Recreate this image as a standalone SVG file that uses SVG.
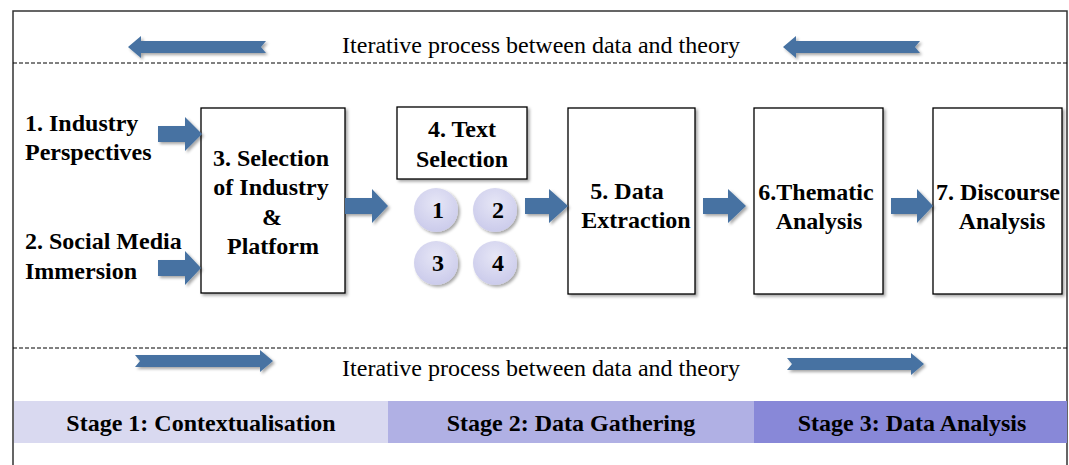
<svg xmlns="http://www.w3.org/2000/svg" width="1069" height="465" viewBox="0 0 1069 465" font-family="'Liberation Serif', 'Times New Roman', 'DejaVu Serif', serif">
<defs>
<filter id="sh" x="-10%" y="-10%" width="130%" height="130%">
<feDropShadow dx="2" dy="2" stdDeviation="1.8" flood-color="#000" flood-opacity="0.35"/>
</filter>
<radialGradient id="cg" cx="50%" cy="35%" r="65%">
<stop offset="0" stop-color="#e6e6f6"/>
<stop offset="1" stop-color="#cbcbeb"/>
</radialGradient>
<style>
.lbl{font-weight:bold;font-size:24px;fill:#000}
.reg{font-size:24px;fill:#000}
.box{fill:#fff;stroke:#000;stroke-width:1.3}
.arr{fill:#4672a2}
.dash{stroke:#000;stroke-width:1;stroke-dasharray:4 2;fill:none}
.frame{stroke:#333;stroke-width:1.5;fill:none}
</style>
</defs>
<rect width="1069" height="465" fill="#fff"/>
<g id="frame">
<path class="frame" d="M13,465 V11 H1067 V465"/>
<line class="dash" x1="13" y1="63" x2="1067" y2="63"/>
<line class="dash" x1="13" y1="348" x2="1067" y2="348"/>
</g>
<g id="stages">
<rect x="14" y="401" width="374" height="42" fill="#d9d9f0"/>
<rect x="388" y="401" width="366" height="42" fill="#b0b0e4"/>
<rect x="754" y="401" width="313" height="42" fill="#8888d8"/>
<text class="lbl" x="201" y="431" text-anchor="middle">Stage 1: Contextualisation</text>
<text class="lbl" x="571" y="431" text-anchor="middle">Stage 2: Data Gathering</text>
<text class="lbl" x="912" y="431" text-anchor="middle">Stage 3: Data Analysis</text>
</g>
<g id="iter-top">
<text class="reg" x="541" y="53" text-anchor="middle">Iterative process between data and theory</text>
</g>
<g id="iter-bottom">
<text class="reg" x="541" y="376" text-anchor="middle">Iterative process between data and theory</text>
</g>
<g id="n1"><text class="lbl" x="25" y="131">1. Industry</text><text class="lbl" x="25" y="160">Perspectives</text></g>
<g id="n2"><text class="lbl" x="25" y="249">2. Social Media</text><text class="lbl" x="25" y="279">Immersion</text></g>
<g id="n3"><rect class="box" x="201" y="108" width="144" height="185" filter="url(#sh)"/>
<text class="lbl" text-anchor="middle"><tspan x="271" y="166">3. Selection</tspan><tspan x="271" y="195">of Industry</tspan><tspan x="272" y="225">&amp;</tspan><tspan x="273" y="254">Platform</tspan></text></g>
<g id="n4"><rect class="box" x="397" y="107" width="130" height="72" filter="url(#sh)"/>
<text class="lbl" text-anchor="middle"><tspan x="462" y="137">4. Text</tspan><tspan x="462" y="167">Selection</tspan></text>
<g filter="url(#sh)">
<circle cx="436" cy="210" r="22" fill="url(#cg)"/>
<circle cx="495" cy="210" r="22" fill="url(#cg)"/>
<circle cx="436" cy="263" r="22" fill="url(#cg)"/>
<circle cx="495" cy="263" r="22" fill="url(#cg)"/>
</g>
<text class="lbl" x="438" y="218" text-anchor="middle">1</text>
<text class="lbl" x="498" y="218" text-anchor="middle">2</text>
<text class="lbl" x="438" y="271" text-anchor="middle">3</text>
<text class="lbl" x="498" y="271" text-anchor="middle">4</text>
</g>
<g id="n5"><rect class="box" x="568" y="108" width="127" height="186" filter="url(#sh)"/>
<text class="lbl" text-anchor="middle"><tspan x="627" y="199">5. Data</tspan><tspan x="636" y="228">Extraction</tspan></text></g>
<g id="n6"><rect class="box" x="754" y="108" width="129" height="186" filter="url(#sh)"/>
<text class="lbl" text-anchor="middle"><tspan x="816" y="200">6.Thematic</tspan><tspan x="819" y="229">Analysis</tspan></text></g>
<g id="n7"><rect class="box" x="933" y="108" width="129" height="186" filter="url(#sh)"/>
<text class="lbl" text-anchor="middle"><tspan x="998" y="200">7. Discourse</tspan><tspan x="1002" y="229">Analysis</tspan></text></g>
<g id="connectors" class="arr" filter="url(#sh)">
<path d="M158,126 H185 V117 L202,134 L185,151 V142 H158 Z"/>
<path d="M158,260 H185 V251 L201,268 L185,285 V276 H158 Z"/>
<path d="M345,198 H372 V189 L388,206 L372,223 V214 H345 Z"/>
<path d="M525,198 H549 V189 L568,206 L549,223 V214 H525 Z"/>
<path d="M703,198 H728 V189 L746,206 L728,223 V214 H703 Z"/>
<path d="M891,198 H917 V189 L933,206 L917,223 V214 H891 Z"/>
<path d="M128,47 L141,36 V41 H266 L261,47 L266,53 H141 V58 Z"/>
<path d="M783,47 L796,36 V41 H920 L915,47 L920,53 H796 V58 Z"/>
<path d="M273,361 L260,350 V355 H135 L140,361 L135,367 H260 V372 Z"/>
<path d="M924,364 L911,353 V358 H787 L792,364 L787,370 H911 V375 Z"/>
</g>
</svg>
